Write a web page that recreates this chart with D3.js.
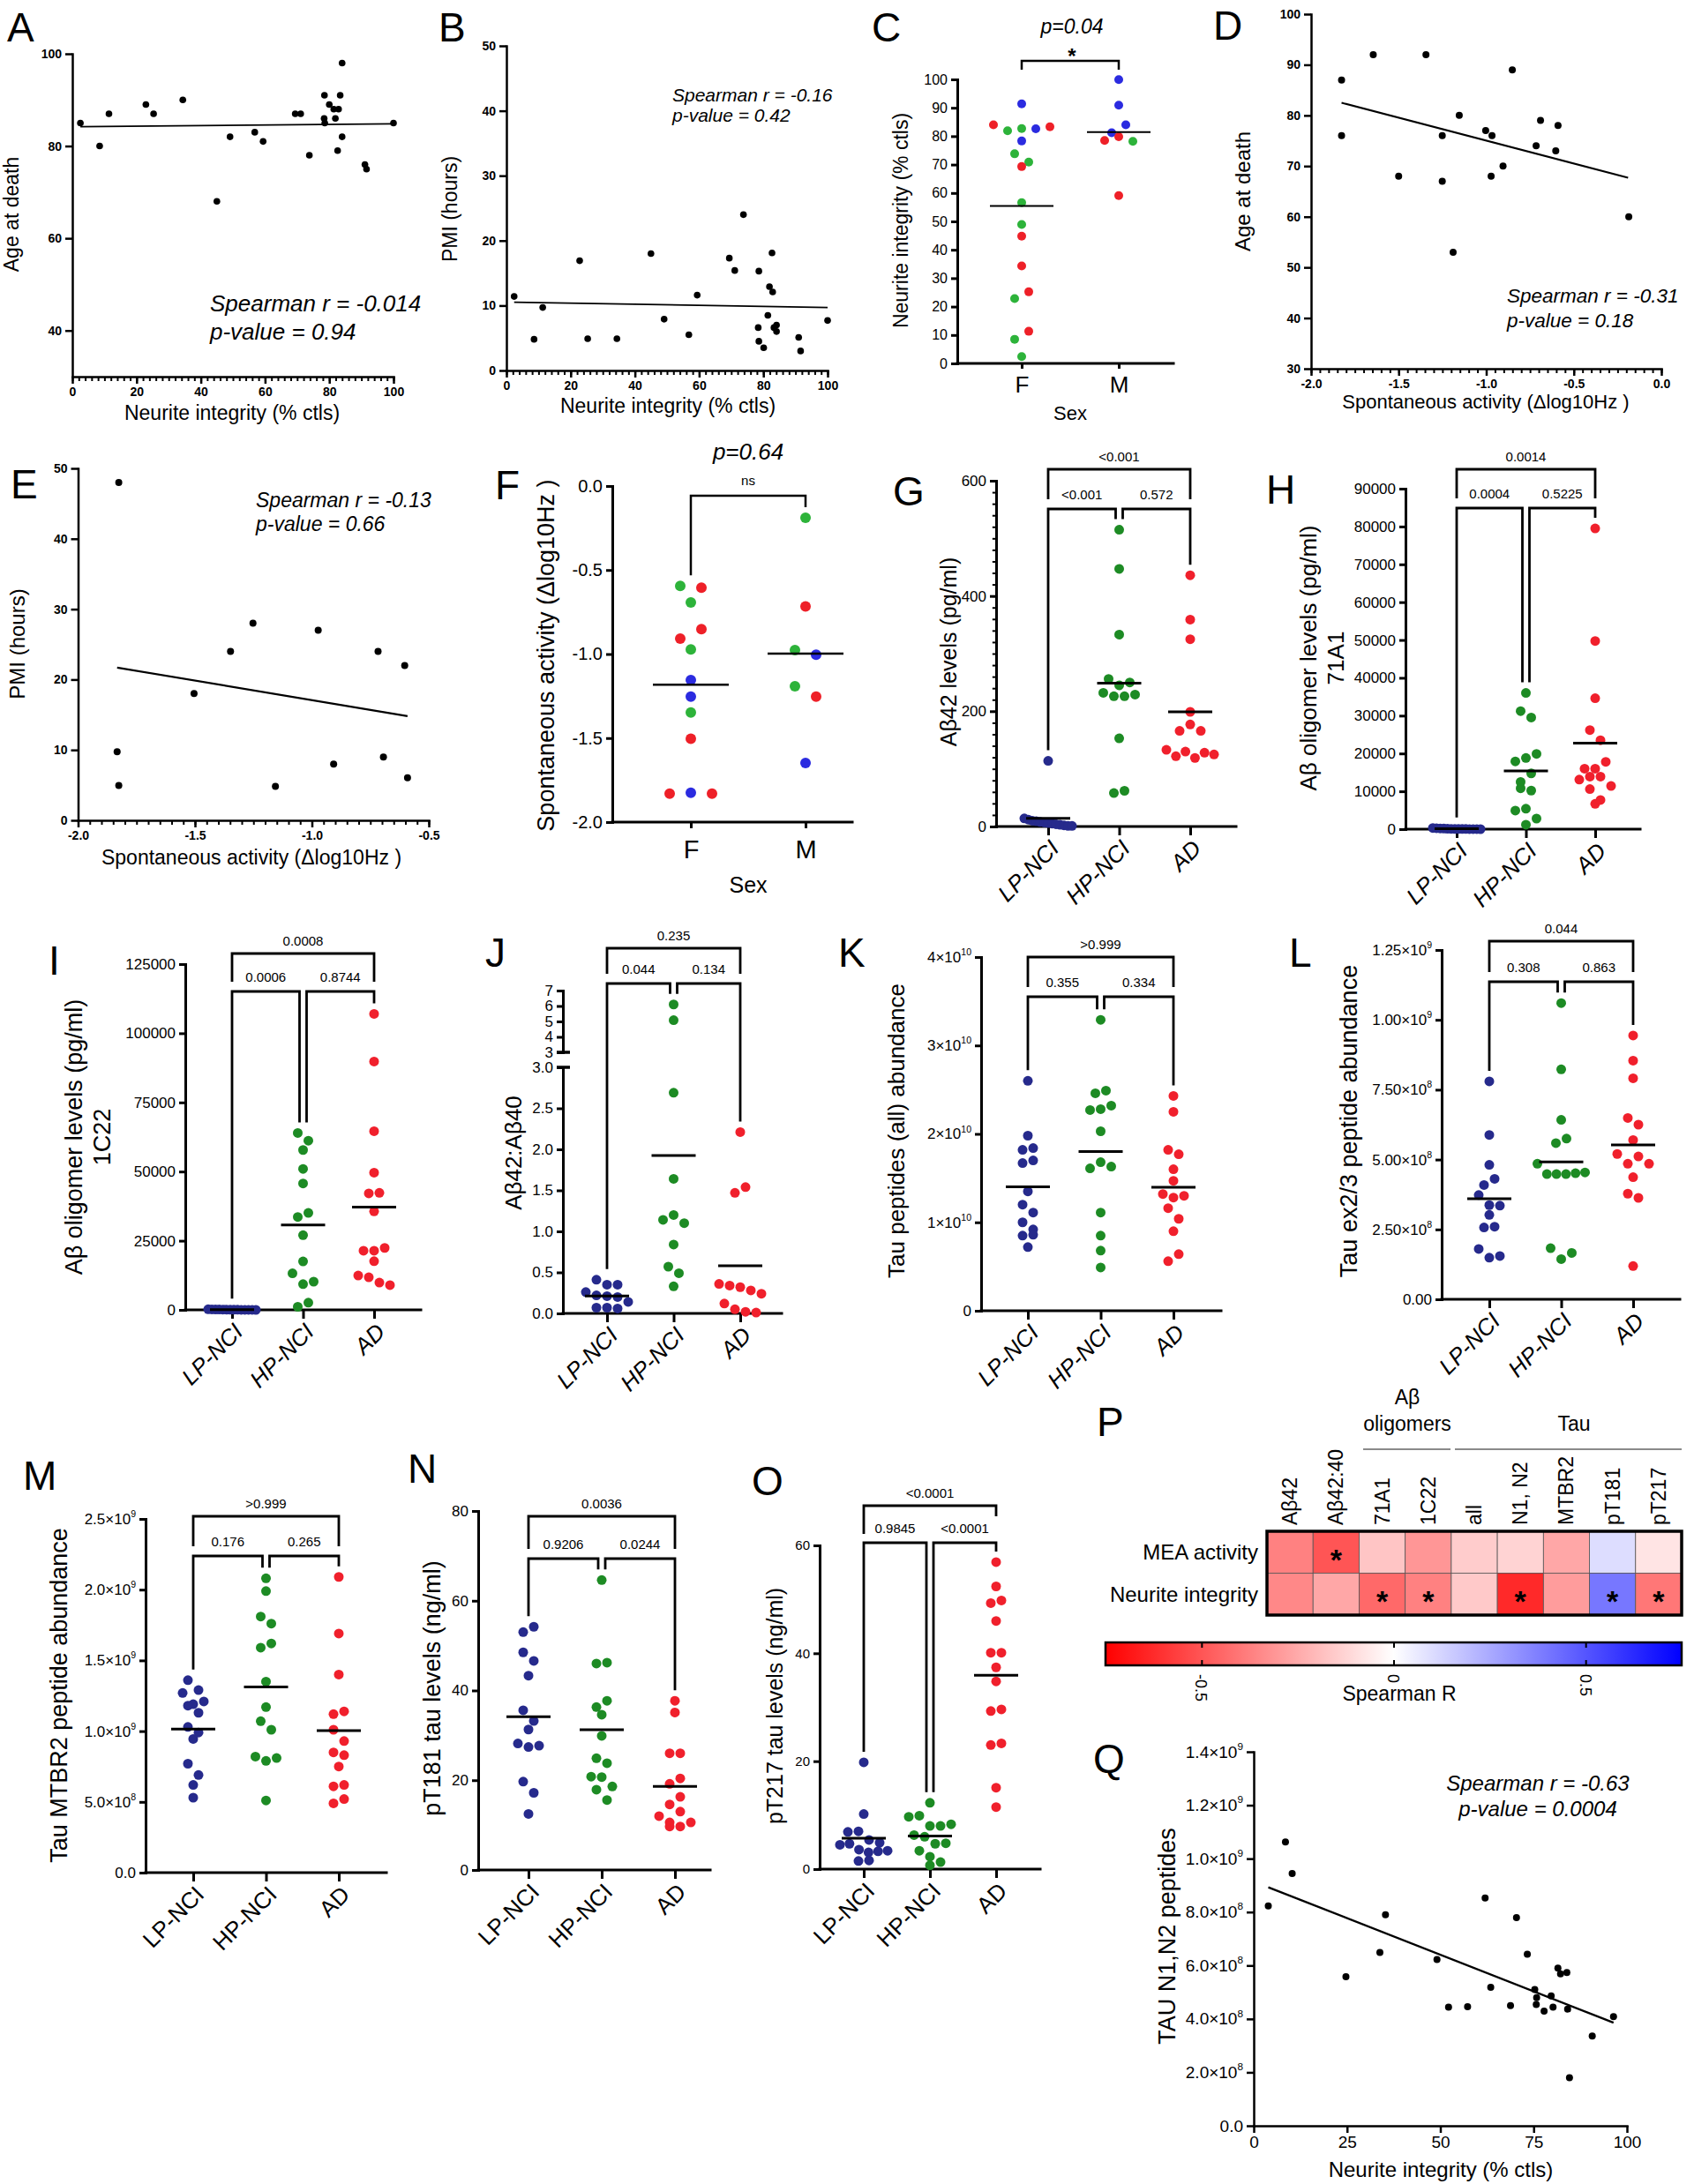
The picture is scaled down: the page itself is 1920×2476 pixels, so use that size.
<!DOCTYPE html>
<html><head><meta charset="utf-8">
<script src="https://cdn.jsdelivr.net/npm/d3@7"></script>
<style>body{margin:0;background:#fff}</style>
</head><body>
<svg id="fig" width="1920" height="2476" xmlns="http://www.w3.org/2000/svg"></svg>
<script>
// ================= DATA =================
// A: Neurite integrity vs age at death
const aNeurite = [2.5, 8.5, 11.4, 22.9, 25.3, 34.4, 45.0, 49.1, 56.8, 59.4, 69.4, 71.1, 73.8, 78.5, 78.4, 78.6, 80.0, 81.4, 81.9, 82.9, 82.6, 83.4, 84.0, 84.0, 91.1, 91.6, 100];
const aAge = [85, 80, 87, 89, 87, 90, 68, 82, 83, 81, 87, 87, 78, 91, 86, 85, 89, 88, 86, 88, 79, 91, 98, 82, 76, 75, 85];
const aFitX = [2.5, 100], aFitY = [84.2, 84.8];
const aXTicks = [0, 20, 40, 60, 80, 100], aXTickLabels = ["0", "20", "40", "60", "80", "100"];
const aYTicks = [40, 60, 80, 100], aYTickLabels = ["40", "60", "80", "100"];
// B: Neurite integrity vs PMI
const bNeurite = [2.4, 8.6, 11.3, 22.8, 25.3, 34.4, 45.0, 49.1, 56.8, 59.4, 69.4, 71.1, 73.8, 78.6, 78.4, 78.6, 80.1, 81.4, 81.9, 82.9, 82.7, 83.3, 84.1, 84.1, 91.0, 91.6, 100];
const bPMI = [11.4, 4.8, 9.7, 16.9, 4.9, 4.9, 18.0, 7.9, 5.5, 11.6, 17.3, 15.4, 24.0, 15.3, 6.6, 4.5, 3.5, 8.5, 12.9, 12.1, 18.1, 6.6, 7.0, 6.0, 5.1, 3.0, 7.7];
const bFitX = [2.4, 100], bFitY = [10.5, 9.7];
const bYTicks = [0, 10, 20, 30, 40, 50], bYTickLabels = ["0", "10", "20", "30", "40", "50"];
// C: Neurite integrity by sex (group codes LP/HP/AD)
const cFemaleVal = [91.4, 84, 81.9, 82.7, 82.6, 83.3, 78.3, 73.8, 70.9, 69.3, 56.6, 48.9, 44.8, 34.3, 22.8, 25.2, 8.5, 11.3, 2.4];
const cFemaleGrp = ["LP", "AD", "HP", "HP", "LP", "AD", "LP", "HP", "HP", "AD", "HP", "HP", "AD", "AD", "HP", "AD", "HP", "AD", "HP"];
const cMaleVal = [99.9, 90.9, 81.2, 84, 78.5, 79.8, 78.2, 59.1];
const cMaleGrp = ["LP", "LP", "LP", "LP", "AD", "AD", "HP", "AD"];
const cYTicks = [0, 10, 20, 30, 40, 50, 60, 70, 80, 90, 100], cYTickLabels = cYTicks.map(String);
const sexCats = ["F", "M"];
// D: Spontaneous activity vs age at death
const dActivity = [-1.826, -1.826, -1.645, -1.5, -1.344, -1.251, -1.251, -1.189, -1.154, -1.003, -0.972, -0.967, -0.904, -0.851, -0.715, -0.69, -0.603, -0.59, -0.186];
const dAge = [87, 76, 92, 68, 92, 76, 67, 53, 80, 77, 68, 76, 70, 89, 74, 79, 73, 78, 60];
const dFitX = [-1.826, -0.19], dFitY = [82.5, 67.7];
const dXTicks = [-2, -1.5, -1, -0.5, 0], dXTickLabels = ["-2.0", "-1.5", "-1.0", "-0.5", "0.0"];
const dYTicks = [30, 40, 50, 60, 70, 80, 90, 100], dYTickLabels = dYTicks.map(String);
// E: Spontaneous activity vs PMI
const eActivity = [-1.826, -1.833, -1.826, -1.504, -1.348, -1.252, -1.156, -0.973, -0.907, -0.717, -0.694, -0.603, -0.591];
const ePMI = [48, 9.75, 4.96, 18, 24, 28, 4.83, 27, 8, 24, 9, 22, 6.04];
const eFitX = [-1.833, -0.591], eFitY = [21.7, 14.8];
const eXTicks = [-2, -1.5, -1, -0.5], eXTickLabels = ["-2.0", "-1.5", "-1.0", "-0.5"];
// F: Spontaneous activity by sex
const fFemaleVal = [-0.594, -0.605, -0.693, -0.908, -0.852, -0.972, -1.155, -1.253, -1.348, -1.504, -1.831, -1.826, -1.831];
const fFemaleGrp = ["HP", "AD", "HP", "AD", "AD", "HP", "LP", "LP", "HP", "AD", "AD", "LP", "AD"];
const fMaleVal = [-0.189, -0.717, -0.976, -1.004, -1.191, -1.253, -1.648];
const fMaleGrp = ["HP", "AD", "HP", "LP", "HP", "AD", "LP"];
const fYTicks = [-2, -1.5, -1, -0.5, 0], fYTickLabels = ["-2.0", "-1.5", "-1.0", "-0.5", "0.0"];
// group names
const groupNames = ["LP-NCI", "HP-NCI", "AD"];
// G: Abeta42 levels
const gLP = [114, 14, 12, 10, 9, 8, 7, 6, 5, 4, 3, 2, 1, 1];
const gHP = [515, 447, 333, 256, 245, 250, 232, 226, 226, 229, 153, 58, 62];
const gAD = [436, 359, 325, 199, 166, 177, 166, 133, 122, 130, 119, 128, 125];
const gYTicks = [0, 200, 400, 600], gYTickLabels = ["0", "200", "400", "600"];
const gP = ["<0.001", "<0.001", "0.572"];
// H: Abeta oligomers 71A1
const hLP = [300, 250, 200, 150, 100, 80, 60, 50, 40, 30, 20, 10, 5, 0];
const hHP = [36000, 31200, 29500, 17900, 18800, 19900, 12500, 14750, 10800, 10200, 4900, 5400, 1170, 2800];
const hAD = [79500, 49750, 34600, 26200, 23500, 16000, 16000, 17800, 13100, 13900, 13900, 11400, 10600, 6700, 7700];
const hYTicks = [0, 10000, 20000, 30000, 40000, 50000, 60000, 70000, 80000, 90000], hYTickLabels = hYTicks.map(String);
const hP = ["0.0014", "0.0004", "0.5225"];
// I: Abeta oligomers 1C22
const iLP = [200, 180, 150, 120, 100, 80, 60, 50, 40, 30, 20, 10, 5, 0];
const iHP = [63950, 61150, 57800, 50960, 45700, 33600, 35060, 27000, 17500, 13200, 9300, 10200, 1120, 2600];
const iAD = [107000, 89800, 64600, 49600, 42100, 42300, 35600, 21400, 21400, 22400, 17600, 12400, 11760, 9860, 8960];
const iYTicks = [0, 25000, 50000, 75000, 100000, 125000], iYTickLabels = iYTicks.map(String);
const iP = ["0.0008", "0.0006", "0.8744"];
// J: Abeta42:Abeta40 (broken axis)
const jLP = [0.41, 0.35, 0.35, 0.26, 0.22, 0.21, 0.20, 0.14, 0.07, 0.07, 0.06];
const jHP = [6.1, 5.08, 2.69, 1.64, 1.14, 1.2, 1.1, 0.84, 0.57, 0.49, 0.33];
const jAD = [2.21, 1.47, 1.54, 0.36, 0.34, 0.32, 0.28, 0.24, 0.12, 0.05, 0.02, 0.01];
const jYTicksLow = [0, 0.5, 1, 1.5, 2, 2.5, 3], jYTickLabelsLow = ["0.0", "0.5", "1.0", "1.5", "2.0", "2.5", "3.0"];
const jYTicksHigh = [3, 4, 5, 6, 7], jYTickLabelsHigh = ["3", "4", "5", "6", "7"];
const jP = ["0.235", "0.044", "0.134"];
// K: Tau peptides (all)
const kLP = [2.60e10, 1.98e10, 1.82e10, 1.84e10, 1.67e10, 1.70e10, 1.35e10, 1.20e10, 1.11e10, 1.00e10, 0.92e10, 0.85e10, 0.86e10, 0.72e10];
const kHP = [3.29e10, 2.46e10, 2.49e10, 2.27e10, 2.28e10, 2.32e10, 2.03e10, 1.61e10, 1.68e10, 1.63e10, 1.11e10, 0.85e10, 0.68e10, 0.49e10];
const kAD = [2.43e10, 2.25e10, 1.82e10, 1.77e10, 1.60e10, 1.47e10, 1.32e10, 1.28e10, 1.30e10, 1.16e10, 1.04e10, 0.90e10, 0.56e10, 0.64e10];
const kYTicks = [0, 1e10, 2e10, 3e10, 4e10], kYTickLabels = ["0", "1×10^10", "2×10^10", "3×10^10", "4×10^10"];
const kP = [">0.999", "0.355", "0.334"];
// L: Tau ex2/3
const lLP = [7.80e8, 5.88e8, 4.81e8, 4.09e8, 4.31e8, 3.73e8, 3.37e8, 3.35e8, 3.02e8, 2.57e8, 2.60e8, 1.80e8, 1.49e8, 1.55e8];
const lHP = [10.60e8, 8.23e8, 6.42e8, 5.59e8, 5.75e8, 4.85e8, 4.48e8, 4.48e8, 4.48e8, 4.51e8, 4.54e8, 1.83e8, 1.44e8, 1.66e8];
const lAD = [9.44e8, 8.54e8, 7.91e8, 6.49e8, 6.25e8, 5.70e8, 5.20e8, 4.85e8, 5.11e8, 4.85e8, 4.37e8, 3.78e8, 3.63e8, 1.19e8];
const lYTicks = [0, 2.5e8, 5e8, 7.5e8, 1e9, 1.25e9], lYTickLabels = ["0.00", "2.50×10^8", "5.00×10^8", "7.50×10^8", "1.00×10^9", "1.25×10^9"];
const lP = ["0.044", "0.308", "0.863"];
// M: Tau MTBR2
const mLP = [1.36e9, 1.27e9, 1.29e9, 1.19e9, 1.21e9, 1.18e9, 1.13e9, 1.03e9, 0.99e9, 0.945e9, 0.77e9, 0.69e9, 0.62e9, 0.53e9];
const mHP = [2.08e9, 1.99e9, 1.81e9, 1.76e9, 1.59e9, 1.62e9, 1.35e9, 1.17e9, 1.07e9, 1.01e9, 0.82e9, 0.79e9, 0.81e9, 0.51e9];
const mAD = [2.09e9, 1.69e9, 1.40e9, 1.12e9, 1.14e9, 1.01e9, 0.93e9, 0.85e9, 0.83e9, 0.75e9, 0.61e9, 0.62e9, 0.49e9, 0.52e9];
const mYTicks = [0, 5e8, 1e9, 1.5e9, 2e9, 2.5e9], mYTickLabels = ["0.0", "5.0×10^8", "1.0×10^9", "1.5×10^9", "2.0×10^9", "2.5×10^9"];
const mP = [">0.999", "0.176", "0.265"];
// N: pT181
const nLP = [53.0, 54.2, 48.5, 46.6, 43.3, 35.6, 33.2, 31.3, 28.2, 27.4, 27.7, 19.7, 17.2, 12.5];
const nHP = [64.6, 46.0, 46.2, 36.3, 37.7, 34.6, 29.9, 24.9, 23.8, 20.8, 20.7, 18.6, 17.9, 15.6];
const nAD = [37.7, 35.1, 26.0, 26.0, 19.2, 20.4, 14.6, 16.3, 12.0, 10.6, 13.0, 10.6, 9.7, 9.7];
const nYTicks = [0, 20, 40, 60, 80], nYTickLabels = nYTicks.map(String);
const nP = ["0.0036", "0.9206", "0.0244"];
// O: pT217
const oLP = [19.8, 10.2, 6.9, 7.0, 5.4, 4.5, 4.7, 4.9, 3.6, 3.1, 3.3, 3.4, 1.5, 1.6];
const oHP = [12.3, 9.7, 9.9, 8.0, 8.0, 8.3, 6.3, 6.0, 4.7, 4.8, 3.4, 2.3, 1.3, 0.7];
const oAD = [56.9, 52.4, 49.3, 49.8, 46.0, 40.1, 40.1, 37.4, 34.8, 29.3, 29.6, 23.0, 23.3, 15.1, 11.5];
const oYTicks = [0, 20, 40, 60], oYTickLabels = oYTicks.map(String);
const oP = ["<0.0001", "0.9845", "<0.0001"];
// P: heatmap of Spearman R
const pCols = ["Aβ42", "Aβ42:40", "71A1", "1C22", "all", "N1, N2", "MTBR2", "pT181", "pT217"];
const pRows = ["MEA activity", "Neurite integrity"];
const pMEA = [-0.37, -0.50, -0.17, -0.31, -0.15, -0.13, -0.26, 0.10, -0.08];
const pNeurite = [-0.35, -0.26, -0.44, -0.37, -0.16, -0.63, -0.29, 0.40, -0.40];
const pSigMEA = [0, 1, 0, 0, 0, 0, 0, 0, 0];
const pSigNeurite = [0, 0, 1, 1, 0, 1, 0, 1, 1];
const pBarTicks = [-0.5, 0, 0.5], pBarTickLabels = ["-0.5", "0", "0.5"];
// Q: Neurite integrity vs TAU N1,N2
const qNeurite = [3.9, 8.5, 10.3, 24.7, 33.8, 35.3, 49.1, 52.2, 57.3, 62.0, 63.5, 68.8, 70.4, 73.3, 75.3, 75.8, 75.7, 77.8, 79.7, 80.2, 81.5, 82.2, 83.9, 84.1, 84.6, 90.7, 96.4];
const qTau = [8.23e8, 10.62e8, 9.44e8, 5.58e8, 6.49e8, 7.90e8, 6.22e8, 4.44e8, 4.46e8, 8.53e8, 5.18e8, 4.50e8, 7.79e8, 6.42e8, 5.10e8, 4.80e8, 4.54e8, 4.29e8, 4.86e8, 4.44e8, 5.90e8, 5.69e8, 5.74e8, 4.37e8, 1.80e8, 3.36e8, 4.09e8];
const qFitX = [3.9, 96.4], qFitY = [8.93e8, 3.86e8];
const qXTicks = [0, 25, 50, 75, 100], qXTickLabels = qXTicks.map(String);
const qYTicks = [0, 2e8, 4e8, 6e8, 8e8, 1e9, 1.2e9, 1.4e9];
const qYTickLabels = ["0.0", "2.0×10^8", "4.0×10^8", "6.0×10^8", "8.0×10^8", "1.0×10^9", "1.2×10^9", "1.4×10^9"];

// ================= DRAWING =================
const FONT = "'Liberation Sans', Arial, Helvetica, sans-serif";
const svg = d3.select("#fig");
svg.append("rect").attr("width", 1920).attr("height", 2476).attr("fill", "#fff");
const DOT = {LP: "#262a8c", HP: "#1d8b24", AD: "#f0202c"};
const SEXDOT = {LP: "#2b2be0", HP: "#2db33a", AD: "#ee2028"};

function txt(x, y, s, o = {}) {
  const t = svg.append("text").attr("x", x).attr("y", y).attr("font-family", FONT)
    .attr("font-size", o.fs || 20).attr("fill", "#000").attr("text-anchor", o.anchor || "start").text(s);
  if (o.italic) t.attr("font-style", "italic");
  if (o.bold) t.attr("font-weight", "bold");
  if (o.rot !== undefined) t.attr("transform", `rotate(${o.rot},${x},${y})`);
  return t;
}
function styleAxis(a, sw, fs, bold, italic) {
  a.attr("font-family", FONT).attr("font-size", fs);
  a.select(".domain").attr("stroke", "#000").attr("stroke-width", sw).attr("stroke-linecap", "square");
  a.selectAll(".tick line").attr("stroke", "#000").attr("stroke-width", sw);
  a.selectAll(".tick text").attr("fill", "#000").attr("font-weight", bold ? "bold" : "normal").attr("font-style", italic ? "italic" : "normal");
}
function supLabels(a) {
  a.selectAll(".tick text").each(function () {
    const s = d3.select(this).text();
    if (s.indexOf("^") >= 0) {
      const p = s.split("^"), t = d3.select(this);
      t.text(null);
      t.append("tspan").text(p[0]);
      t.append("tspan").attr("dy", "-0.75em").attr("font-size", "0.62em").text(p[1]);
    }
  });
}
function yLabel(cx, cy, s, fs) { return txt(cx + 0.27 * fs, cy, s, {fs, anchor: "middle", rot: -90}); }

function scatter(o) {
  const x = d3.scaleLinear().domain(o.xd).range([o.x0, o.x1]);
  const y = d3.scaleLinear().domain(o.yd).range([o.y0, o.y1]);
  const g = svg.append("g");
  if (o.minor) {
    const n = Math.round((o.xd[1] - o.xd[0]) / o.minor);
    const mt = d3.range(n + 1).map(i => o.xd[0] + i * o.minor);
    const am = g.append("g").attr("transform", `translate(0,${o.y0})`)
      .call(d3.axisBottom(x).tickValues(mt).tickFormat("").tickSize(o.minorLen).tickSizeOuter(0));
    am.select(".domain").remove();
    am.selectAll(".tick line").attr("stroke", "#000").attr("stroke-width", o.minorW || 2);
  }
  const ax = g.append("g").attr("transform", `translate(0,${o.y0})`)
    .call(d3.axisBottom(x).tickValues(o.xt).tickFormat((d, i) => o.xtl[i]).tickSize(o.tick).tickSizeOuter(0).tickPadding(o.pad || 4));
  styleAxis(ax, o.sw, o.fs, o.bold);
  const ay = g.append("g").attr("transform", `translate(${o.x0},0)`)
    .call(d3.axisLeft(y).tickValues(o.yt).tickFormat((d, i) => o.ytl[i]).tickSize(o.tick).tickSizeOuter(0).tickPadding(o.pad || 4));
  styleAxis(ay, o.sw, o.fs, o.bold);
  supLabels(ax); supLabels(ay);
  g.append("path").datum(o.fitX.map((v, i) => [v, o.fitY[i]]))
    .attr("d", d3.line().x(d => x(d[0])).y(d => y(d[1])))
    .attr("stroke", "#000").attr("stroke-width", o.lw || 2).attr("fill", "none");
  g.append("g").selectAll("circle").data(o.xs).join("circle")
    .attr("cx", d => x(d)).attr("cy", (d, i) => y(o.ys[i])).attr("r", o.r).attr("fill", "#000");
}

function swarm(vals, ypix, thr, spacing, maxHalf) {
  const idx = vals.map((v, i) => i).sort((a, b) => ypix(vals[a]) - ypix(vals[b]));
  const off = new Array(vals.length).fill(0);
  let row = [], startY = null;
  const flush = () => {
    row.sort((a, b) => a - b);
    const n = row.length;
    let sp = spacing;
    if (n > 1 && (n - 1) * sp / 2 > maxHalf) sp = 2 * maxHalf / (n - 1);
    row.forEach((id, k) => off[id] = (k - (n - 1) / 2) * sp);
  };
  idx.forEach(i => {
    const yy = ypix(vals[i]);
    if (startY === null || yy - startY > thr) { if (row.length) flush(); row = [i]; startY = yy; }
    else row.push(i);
  });
  if (row.length) flush();
  return off;
}

function dotPanel(o) {
  const g = svg.append("g");
  o.yAxes.forEach(ya => {
    if (ya.minor) {
      const n = Math.round((ya.s.domain()[1] - ya.s.domain()[0]) / ya.minor);
      const mt = d3.range(n + 1).map(i => ya.s.domain()[0] + i * ya.minor);
      const am = g.append("g").attr("transform", `translate(${o.ax},0)`)
        .call(d3.axisLeft(ya.s).tickValues(mt).tickFormat("").tickSize(o.ytick * 0.6).tickSizeOuter(0));
      am.select(".domain").remove();
      am.selectAll(".tick line").attr("stroke", "#000").attr("stroke-width", 2);
    }
    const a = g.append("g").attr("transform", `translate(${o.ax},0)`)
      .call(d3.axisLeft(ya.s).tickValues(ya.t).tickFormat((d, i) => ya.l[i]).tickSize(o.ytick).tickSizeOuter(0).tickPadding(4));
    styleAxis(a, o.sw, o.tfs, false);
    supLabels(a);
  });
  g.append("line").attr("x1", o.ax).attr("x2", o.ex).attr("y1", o.y0).attr("y2", o.y0)
    .attr("stroke", "#000").attr("stroke-width", o.sw).attr("stroke-linecap", "square");
  const xs = d3.scalePoint().domain(o.cats.map(c => c.name)).range(o.xr);
  const xa = g.append("g").attr("transform", `translate(0,${o.y0})`)
    .call(d3.axisBottom(xs).tickSize(o.xtick).tickSizeOuter(0));
  xa.select(".domain").remove();
  styleAxis(xa, o.sw, o.cfs, false, o.catItalic);
  if (o.catRot) {
    xa.selectAll(".tick text").attr("text-anchor", "end").attr("x", 0).attr("y", 0).attr("dy", "0.35em")
      .attr("transform", `translate(${o.catDx},${o.catDy}) rotate(-45)`);
  } else {
    xa.selectAll(".tick text").attr("dy", 0).attr("y", o.catDy);
  }
  const cx = o.cats.map(c => xs(c.name));
  const legEnd = vals => o.ypix(d3.max(vals)) - 12;
  if (o.br) {
    const b = o.br, v = o.cats.map(c => c.vals);
    const tl = b.topLegs || [b.innerY - 11, b.innerY - 11];
    const paths = [
      `M${cx[0]},${tl[0]}V${b.topY}H${cx[2]}V${tl[1]}`,
      `M${cx[0]},${legEnd(v[0])}V${b.innerY}H${cx[1] - 4}V${legEnd(v[1])}`,
      `M${cx[1] + 4},${legEnd(v[1])}V${b.innerY}H${cx[2]}V${legEnd(v[2])}`
    ];
    paths.forEach(p => g.append("path").attr("d", p).attr("fill", "none").attr("stroke", "#000").attr("stroke-width", o.bw || 2.8));
    txt(cx[1], b.topY - 9, b.labels[0], {fs: o.pfs || 15, anchor: "middle"});
    txt((cx[0] + cx[1] - 4) / 2, b.innerY - 11, b.labels[1], {fs: o.pfs || 15, anchor: "middle"});
    txt((cx[1] + 4 + cx[2]) / 2, b.innerY - 11, b.labels[2], {fs: o.pfs || 15, anchor: "middle"});
  }
  if (o.sexBr) {
    const v = o.cats.map(c => c.vals);
    const l0 = o.sexBr.fixed ? o.sexBr.fixed : legEnd(v[0]);
    const l1 = o.sexBr.fixed ? o.sexBr.fixed : legEnd(v[1]);
    g.append("path").attr("d", `M${cx[0]},${l0}V${o.sexBr.y}H${cx[1]}V${l1}`)
      .attr("fill", "none").attr("stroke", "#000").attr("stroke-width", o.bw || 2.8);
  }
  o.cats.forEach((c, ci) => {
    const off = swarm(c.vals, o.ypix, o.thr, o.spacing, o.maxHalf);
    g.append("g").selectAll("circle").data(c.vals).join("circle")
      .attr("cx", (d, i) => cx[ci] + off[i]).attr("cy", d => o.ypix(d)).attr("r", o.r)
      .attr("fill", (d, i) => c.grp ? o.palette[c.grp[i]] : c.col);
    const m = d3.mean(c.vals);
    g.append("line").attr("x1", cx[ci] - o.mh).attr("x2", cx[ci] + o.mh)
      .attr("y1", o.ypix(m)).attr("y2", o.ypix(m)).attr("stroke", "#000").attr("stroke-width", o.mw || 2.5);
  });
  return {xs, cx};
}

// ---------- Panel letters ----------
[["A", 8, 47], ["B", 497, 47], ["C", 988, 47], ["D", 1375, 45], ["E", 12, 565], ["F", 561, 566],
 ["G", 1012, 573], ["H", 1435, 571], ["I", 55, 1105], ["J", 550, 1096], ["K", 950, 1096], ["L", 1461, 1096],
 ["M", 26, 1689], ["N", 462, 1681], ["O", 852, 1695], ["P", 1243, 1628], ["Q", 1239, 2010]]
  .forEach(([s, x, y]) => txt(x, y, s, {fs: 46}));

// ---------- A ----------
scatter({xs: aNeurite, ys: aAge, fitX: aFitX, fitY: aFitY, xd: [0, 100], yd: [30, 100], x0: 82, x1: 446, y0: 427, y1: 61,
  xt: aXTicks, xtl: aXTickLabels, yt: aYTicks, ytl: aYTickLabels, tick: 8, minor: 2, minorLen: 5, sw: 2.5, fs: 14, bold: true, r: 3.8, lw: 1.8});
yLabel(15, 243, "Age at death", 23);
txt(263, 476, "Neurite integrity (% ctls)", {fs: 23, anchor: "middle"});
txt(238, 353, "Spearman r = -0.014", {fs: 26, italic: true});
txt(238, 385, "p-value = 0.94", {fs: 26, italic: true});

// ---------- B ----------
scatter({xs: bNeurite, ys: bPMI, fitX: bFitX, fitY: bFitY, xd: [0, 100], yd: [0, 50], x0: 574, x1: 938, y0: 420, y1: 52,
  xt: aXTicks, xtl: aXTickLabels, yt: bYTicks, ytl: bYTickLabels, tick: 8, minor: 2, minorLen: 5, sw: 2.5, fs: 14, bold: true, r: 3.8, lw: 1.8});
yLabel(512, 237, "PMI (hours)", 23);
txt(757, 468, "Neurite integrity (% ctls)", {fs: 23, anchor: "middle"});
txt(762, 115, "Spearman r = -0.16", {fs: 21, italic: true});
txt(762, 138, "p-value = 0.42", {fs: 21, italic: true});

// ---------- C ----------
{
  const yC = d3.scaleLinear().domain([0, 100]).range([412, 90]);
  dotPanel({ax: 1085, ex: 1330, y0: 412, sw: 3, ytick: 7, xtick: 6, tfs: 16, cfs: 26, catDy: 33,
    yAxes: [{s: yC, t: cYTicks, l: cYTickLabels}], ypix: yC, xr: [1158, 1268],
    cats: [{name: sexCats[0], vals: cFemaleVal, grp: cFemaleGrp}, {name: sexCats[1], vals: cMaleVal, grp: cMaleGrp}],
    palette: SEXDOT, r: 5, spacing: 16, thr: 10, maxHalf: 36, mh: 36, mw: 2,
    sexBr: {y: 69, fixed: 79}, bw: 2.5});
  yLabel(1023, 250, "Neurite integrity (% ctls)", 23);
  txt(1213, 476, "Sex", {fs: 22, anchor: "middle"});
  txt(1215, 38, "p=0.04", {fs: 23, italic: true, anchor: "middle"});
  txt(1215, 72, "*", {fs: 24, bold: true, anchor: "middle"});
}

// ---------- D ----------
scatter({xs: dActivity, ys: dAge, fitX: dFitX, fitY: dFitY, xd: [-2, 0], yd: [30, 100], x0: 1486, x1: 1883, y0: 418, y1: 16,
  xt: dXTicks, xtl: dXTickLabels, yt: dYTicks, ytl: dYTickLabels, tick: 8, minor: 0.05, minorLen: 5, sw: 2.5, fs: 14, bold: true, r: 4, lw: 2});
yLabel(1411, 217, "Age at death", 24);
txt(1684, 463, "Spontaneous activity (Δlog10Hz )", {fs: 22, anchor: "middle"});
txt(1708, 343, "Spearman r = -0.31", {fs: 22.5, italic: true});
txt(1708, 371, "p-value = 0.18", {fs: 22.5, italic: true});

// ---------- E ----------
scatter({xs: eActivity, ys: ePMI, fitX: eFitX, fitY: eFitY, xd: [-2, -0.5], yd: [0, 50], x0: 88.5, x1: 486, y0: 930, y1: 531,
  xt: eXTicks, xtl: eXTickLabels, yt: bYTicks, ytl: bYTickLabels, tick: 8, minor: 0.05, minorLen: 5, sw: 2.5, fs: 14, bold: true, r: 4, lw: 2.2});
yLabel(22, 730, "PMI (hours)", 24);
txt(285, 980, "Spontaneous activity (Δlog10Hz )", {fs: 23, anchor: "middle"});
txt(290, 575, "Spearman r = -0.13", {fs: 23, italic: true});
txt(290, 602, "p-value = 0.66", {fs: 23, italic: true});

// ---------- F ----------
{
  const yF = d3.scaleLinear().domain([-2, 0]).range([932, 551]);
  dotPanel({ax: 694, ex: 966, y0: 932, sw: 3, ytick: 7, xtick: 7, tfs: 20, cfs: 29, catDy: 41,
    yAxes: [{s: yF, t: fYTicks, l: fYTickLabels}], ypix: yF, xr: [783, 913],
    cats: [{name: sexCats[0], vals: fFemaleVal, grp: fFemaleGrp}, {name: sexCats[1], vals: fMaleVal, grp: fMaleGrp}],
    palette: SEXDOT, r: 6, spacing: 24, thr: 12, maxHalf: 36, mh: 43, mw: 2.5,
    sexBr: {y: 562}, bw: 2.5});
  yLabel(621, 743, "Spontaneous activity (Δlog10Hz )", 27);
  txt(848, 1012, "Sex", {fs: 25, anchor: "middle"});
  txt(848, 521, "p=0.64", {fs: 26, italic: true, anchor: "middle"});
  txt(848, 550, "ns", {fs: 15, anchor: "middle"});
}

// ---------- G..O common ----------
const DP = {sw: 3, ytick: 7, xtick: 10, cfs: 26, catRot: true, catDx: 7, catDy: 20, r: 5.5, spacing: 12, thr: 13, maxHalf: 27, mh: 25, mw: 3, bw: 2.8, pfs: 15};
function cats3(a, b, c) {
  return [{name: groupNames[0], vals: a, col: DOT.LP}, {name: groupNames[1], vals: b, col: DOT.HP}, {name: groupNames[2], vals: c, col: DOT.AD}];
}

// G
{
  const y = d3.scaleLinear().domain([0, 600]).range([937, 545]);
  dotPanel(Object.assign({}, DP, {ax: 1129, ex: 1401, y0: 937, tfs: 17, catItalic: true,
    yAxes: [{s: y, t: gYTicks, l: gYTickLabels, minor: 20}], ypix: y, xr: [1188, 1349], cats: cats3(gLP, gHP, gAD),
    br: {topY: 532, innerY: 577, labels: gP}}));
  yLabel(1077, 739, "Aβ42 levels (pg/ml)", 25);
}
// H
{
  const y = d3.scaleLinear().domain([0, 90000]).range([940, 554]);
  dotPanel(Object.assign({}, DP, {ax: 1593, ex: 1859, y0: 940, tfs: 17, catItalic: true,
    yAxes: [{s: y, t: hYTicks, l: hYTickLabels}], ypix: y, xr: [1651, 1808], cats: cats3(hLP, hHP, hAD),
    br: {topY: 532, innerY: 576, labels: hP}}));
  yLabel(1485, 746, "Aβ oligomer levels (pg/ml)", 26);
  yLabel(1516, 746, "71A1", 26);
}
// I
{
  const y = d3.scaleLinear().domain([0, 125000]).range([1485, 1093]);
  dotPanel(Object.assign({}, DP, {ax: 210, ex: 477, y0: 1485, tfs: 17, catItalic: true,
    yAxes: [{s: y, t: iYTicks, l: iYTickLabels}], ypix: y, xr: [263, 424], cats: cats3(iLP, iHP, iAD),
    br: {topY: 1081, innerY: 1124, labels: iP}}));
  yLabel(86, 1289, "Aβ oligomer levels (pg/ml)", 27);
  yLabel(118, 1289, "1C22", 27);
}
// J (broken axis)
{
  const yl = d3.scaleLinear().domain([0, 3]).range([1489, 1210]);
  const yh = d3.scaleLinear().domain([3, 7]).range([1193, 1123]);
  const yp = v => v <= 3 ? yl(v) : yh(v);
  dotPanel(Object.assign({}, DP, {ax: 638, ex: 886, y0: 1489, tfs: 17, catItalic: true,
    yAxes: [{s: yl, t: jYTicksLow, l: jYTickLabelsLow}, {s: yh, t: jYTicksHigh, l: jYTickLabelsHigh}], ypix: yp,
    xr: [688, 839], cats: cats3(jLP, jHP, jAD), br: {topY: 1075, innerY: 1115, labels: jP}}));
  [yl(3), yh(3)].forEach(yy => svg.append("line").attr("x1", 631).attr("x2", 646).attr("y1", yy).attr("y2", yy).attr("stroke", "#000").attr("stroke-width", 3.5));
  yLabel(584, 1307, "Aβ42:Aβ40", 26);
}
// K
{
  const y = d3.scaleLinear().domain([0, 4e10]).range([1486, 1085]);
  dotPanel(Object.assign({}, DP, {ax: 1112, ex: 1384, y0: 1486, tfs: 17, catItalic: true,
    yAxes: [{s: y, t: kYTicks, l: kYTickLabels}], ypix: y, xr: [1165, 1330], cats: cats3(kLP, kHP, kAD),
    br: {topY: 1085, innerY: 1130, labels: kP}}));
  yLabel(1018, 1282, "Tau peptides (all) abundance", 26);
}
// L
{
  const y = d3.scaleLinear().domain([0, 1.25e9]).range([1473, 1077]);
  dotPanel(Object.assign({}, DP, {ax: 1634, ex: 1904, y0: 1473, tfs: 17, catItalic: true,
    yAxes: [{s: y, t: lYTicks, l: lYTickLabels}], ypix: y, xr: [1688, 1851], cats: cats3(lLP, lHP, lAD),
    br: {topY: 1067, innerY: 1113, labels: lP}}));
  yLabel(1531, 1271, "Tau ex2/3 peptide abundance", 27);
}
// M
{
  const y = d3.scaleLinear().domain([0, 2.5e9]).range([2123, 1722]);
  dotPanel(Object.assign({}, DP, {ax: 165, ex: 438, y0: 2123, tfs: 17, catItalic: false,
    yAxes: [{s: y, t: mYTicks, l: mYTickLabels}], ypix: y, xr: [219, 384], cats: cats3(mLP, mHP, mAD),
    br: {topY: 1719, innerY: 1764, labels: mP}}));
  yLabel(69, 1922, "Tau MTBR2 peptide abundance", 27);
}
// N
{
  const y = d3.scaleLinear().domain([0, 80]).range([2120, 1713]);
  dotPanel(Object.assign({}, DP, {ax: 542, ex: 805, y0: 2120, tfs: 17, catItalic: false,
    yAxes: [{s: y, t: nYTicks, l: nYTickLabels}], ypix: y, xr: [599, 765], cats: cats3(nLP, nHP, nAD),
    br: {topY: 1719, innerY: 1767, labels: nP}}));
  yLabel(492, 1914, "pT181 tau levels (ng/ml)", 27);
}
// O
{
  const y = d3.scaleLinear().domain([0, 60]).range([2119, 1752]);
  dotPanel(Object.assign({}, DP, {ax: 929, ex: 1179, y0: 2119, tfs: 15, catItalic: false,
    yAxes: [{s: y, t: oYTicks, l: oYTickLabels}], ypix: y, xr: [979, 1129], cats: cats3(oLP, oHP, oAD),
    br: {topY: 1707, innerY: 1749, labels: oP, topLegs: [1739, 1719]}}));
  yLabel(880, 1934, "pT217 tau levels (ng/ml)", 25);
}

// ---------- P heatmap ----------
{
  const hx = d3.scaleBand().domain(pCols).range([1436, 1906]);
  const hy = d3.scaleBand().domain(pRows).range([1736, 1831]);
  const hc = d3.scaleLinear().domain([-0.75, 0, 0.75]).range(["#ff0000", "#ffffff", "#0000ff"]);
  const rows = [{name: pRows[0], v: pMEA, s: pSigMEA}, {name: pRows[1], v: pNeurite, s: pSigNeurite}];
  const g = svg.append("g");
  rows.forEach(r => {
    g.append("g").selectAll("rect").data(r.v).join("rect")
      .attr("x", (d, i) => hx(pCols[i])).attr("y", hy(r.name)).attr("width", hx.bandwidth()).attr("height", hy.bandwidth())
      .attr("fill", d => hc(d)).attr("stroke", "#555").attr("stroke-width", 0.8);
    r.s.forEach((s, i) => { if (s) txt(hx(pCols[i]) + hx.bandwidth() / 2, hy(r.name) + hy.bandwidth() / 2 + 20, "*", {fs: 34, bold: true, anchor: "middle"}); });
    txt(1426, hy(r.name) + hy.bandwidth() / 2 + 8.6, r.name, {fs: 24, anchor: "end"});
  });
  g.append("rect").attr("x", 1436).attr("y", 1736).attr("width", 470).attr("height", 95).attr("fill", "none").attr("stroke", "#000").attr("stroke-width", 3.5);
  pCols.forEach(c => txt(hx(c) + hx.bandwidth() / 2 + 8, 1729, c, {fs: 23, rot: -90}));
  txt(1595, 1592, "Aβ", {fs: 23, anchor: "middle"});
  txt(1595, 1622, "oligomers", {fs: 23, anchor: "middle"});
  txt(1784, 1622, "Tau", {fs: 23, anchor: "middle"});
  [[1545, 1644], [1649, 1906]].forEach(([a, b]) => svg.append("line").attr("x1", a).attr("x2", b).attr("y1", 1643).attr("y2", 1643).attr("stroke", "#8a8a8a").attr("stroke-width", 1.8));
  // colour bar
  const defs = svg.append("defs");
  const grad = defs.append("linearGradient").attr("id", "rb").attr("x1", "0%").attr("x2", "100%");
  [[0, "#ff0000"], [50, "#ffffff"], [100, "#0000ff"]].forEach(([o, c]) => grad.append("stop").attr("offset", o + "%").attr("stop-color", c));
  const cb = d3.scaleLinear().domain([-0.75, 0.75]).range([1253, 1906]);
  svg.append("rect").attr("x", 1253).attr("y", 1862).attr("width", 653).attr("height", 26).attr("fill", "url(#rb)").attr("stroke", "#000").attr("stroke-width", 2.5);
  const ab = svg.append("g").attr("transform", "translate(0,1888)").call(d3.axisBottom(cb).tickValues(pBarTicks).tickFormat("").tickSize(-6).tickSizeOuter(0));
  ab.select(".domain").remove(); ab.selectAll(".tick line").attr("stroke", "#000").attr("stroke-width", 2);
  const at = svg.append("g").attr("transform", "translate(0,1862)").call(d3.axisTop(cb).tickValues(pBarTicks).tickFormat("").tickSize(-6).tickSizeOuter(0));
  at.select(".domain").remove(); at.selectAll(".tick line").attr("stroke", "#000").attr("stroke-width", 2);
  pBarTicks.forEach((t, i) => txt(cb(t) - 6.5, 1898, pBarTickLabels[i], {fs: 18, rot: 90}));
  txt(1586, 1928, "Spearman R", {fs: 23, anchor: "middle"});
}

// ---------- Q ----------
scatter({xs: qNeurite, ys: qTau, fitX: qFitX, fitY: qFitY, xd: [0, 100], yd: [0, 1.4e9], x0: 1421, x1: 1844, y0: 2410, y1: 1986,
  xt: qXTicks, xtl: qXTickLabels, yt: qYTicks, ytl: qYTickLabels, tick: 8, sw: 2.5, fs: 19, bold: false, r: 4, lw: 2.4});
yLabel(1325, 2195, "TAU N1,N2 peptides", 27);
txt(1633, 2468, "Neurite integrity (% ctls)", {fs: 24, anchor: "middle"});
txt(1743, 2030, "Spearman r = -0.63", {fs: 24, italic: true, anchor: "middle"});
txt(1743, 2059, "p-value = 0.0004", {fs: 24, italic: true, anchor: "middle"});
</script>
</body></html>
